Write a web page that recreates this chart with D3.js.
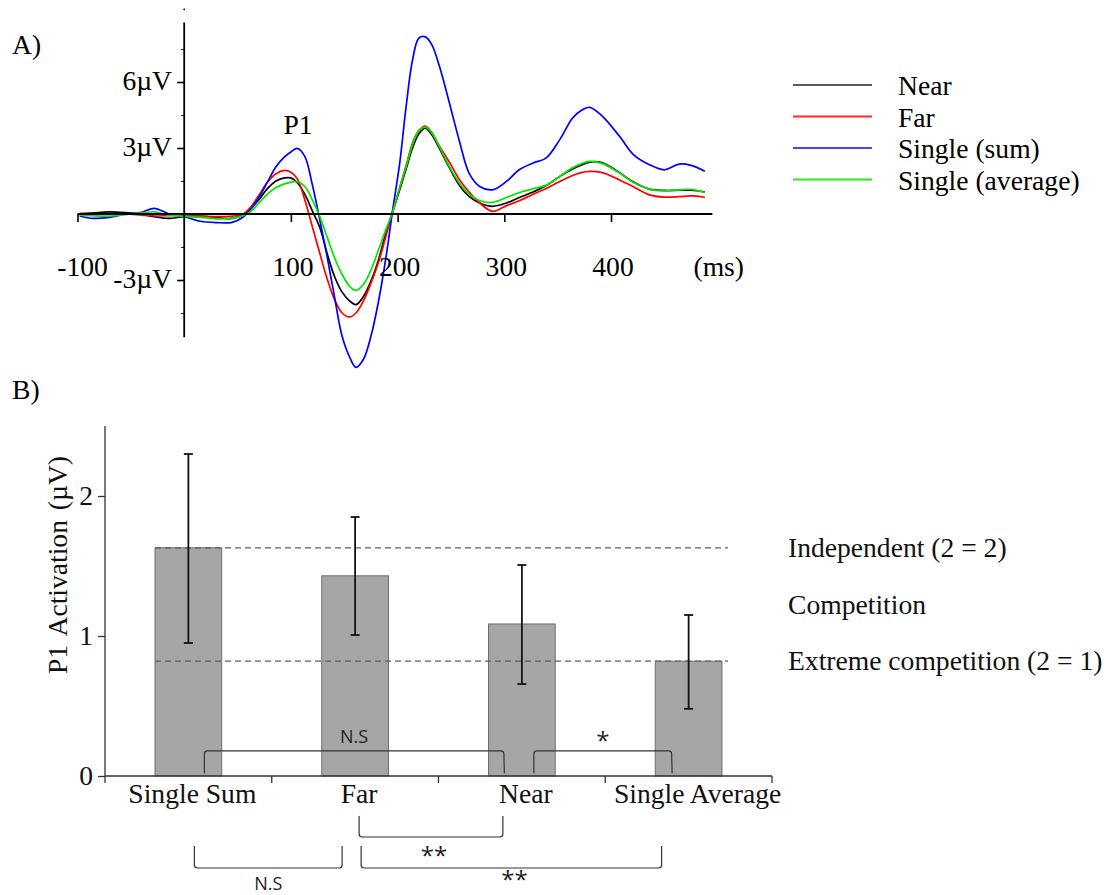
<!DOCTYPE html>
<html><head><meta charset="utf-8">
<script src="https://cdn.jsdelivr.net/npm/d3@7"></script>
<style>body{margin:0;background:#fff}svg{display:block}</style>
</head><body><svg id="c" width="1112" height="895"></svg>
<script>
// ---------- Panel A data (ERP waveforms, µV vs ms) ----------
const times = [-98,-85,-70,-55,-40,-28,-15,0,15,30,45,55,62,70,78,86,94,100,106,113,120,127,134,141,148,155,161,168,175,182,189,195,202,208,214,220,226,232,239,248,258,267,277,289,302,314,327,339,352,364,372,380,392,408,421,436,450,464,475,488];
const nearERP = [0,0.05,0.1,0.06,-0.02,-0.12,-0.2,-0.12,-0.1,-0.16,-0.2,-0.05,0.25,0.65,1.15,1.5,1.64,1.64,1.42,0.9,0.15,-0.6,-1.8,-2.85,-3.55,-3.95,-4.12,-3.75,-3.05,-2.1,-0.86,0.05,1.1,2.05,3.0,3.65,3.9,3.6,3.0,2.15,1.3,0.8,0.5,0.35,0.5,0.75,1.0,1.28,1.71,2.05,2.22,2.36,2.33,1.88,1.45,1.13,1.07,1.08,1.08,1.0];
const farERP = [0.03,0.02,0,0,-0.05,-0.09,-0.07,-0.06,-0.1,-0.12,-0.1,0,0.3,0.85,1.45,1.83,1.98,1.9,1.6,0.65,-0.56,-1.77,-2.95,-3.9,-4.5,-4.68,-4.5,-3.95,-3.15,-2.2,-1.02,0.05,1.2,2.2,3.23,3.8,4.0,3.7,3.1,2.4,1.56,1.0,0.5,0.12,0.38,0.6,0.9,1.15,1.48,1.75,1.88,1.94,1.88,1.55,1.24,0.87,0.77,0.79,0.82,0.76];
const sumERP = [-0.09,-0.2,-0.15,0,0.08,0.26,0.02,-0.12,-0.33,-0.39,-0.38,-0.15,0.2,0.75,1.45,2.15,2.6,2.82,2.98,2.62,1.35,-0.25,-1.95,-3.8,-5.56,-6.5,-6.97,-6.6,-5.56,-4.0,-2.0,0.05,2.32,4.89,7.0,8.0,8.05,7.7,6.75,5.15,3.3,1.86,1.25,1.1,1.48,2.01,2.32,2.54,3.38,4.36,4.7,4.85,4.44,3.53,2.7,2.24,2.01,2.27,2.21,1.94];
const avgERP = [-0.05,-0.08,-0.09,-0.03,0.05,0.1,-0.05,-0.1,-0.15,-0.22,-0.2,-0.08,0.1,0.5,0.9,1.2,1.37,1.45,1.47,1.25,0.65,-0.11,-1.05,-2.0,-2.75,-3.29,-3.47,-3.2,-2.55,-1.65,-0.71,0.05,1.2,2.15,3.15,3.8,3.95,3.7,3.07,2.2,1.4,0.9,0.6,0.53,0.75,0.97,1.15,1.3,1.71,2.1,2.28,2.39,2.29,1.86,1.43,1.13,1.05,1.1,1.12,0.98];
const seriesNames = ["Near","Far","Single (sum)","Single (average)"];
const seriesColors = ["#000000","#ff0000","#0000ff","#00e600"];
const legendColors = ["#5a5a5a","#ff2a2a","#4646ff","#22ee22"];
const xTicksA = [-100,100,200,300,400];
const xTickLabelsA = ["-100","100","200","300","400"];
const yTicksA = [-3,3,6];
const yTickLabelsA = ["-3\u00b5V","3\u00b5V","6\u00b5V"];
const yMinorA = [-4.5,-1.5,1.5,4.5,7.5];

// ---------- Panel B data ----------
const categories = ["Single Sum","Far","Near","Single Average"];
const means = [1.63,1.43,1.086,0.82];
const errLow = [0.95,1.007,0.657,0.48];
const errHigh = [2.30,1.85,1.507,1.15];
const yTicksB = [0,1,2];
const refLabels = ["Independent (2 = 2)","Competition","Extreme competition (2 = 1)"];
const sigTop = [
  {a:0,b:2,da:16,db:-18,label:"N.S"},
  {a:2,b:3,da:12,db:-17,label:"*"}
];
const sigBottom = [
  {a:1,b:2,da:4,db:-19,level:0,label:"**"},
  {a:0,b:1,da:6,db:-13,level:1,label:"N.S"},
  {a:1,b:3,da:6,db:-27,level:1,label:"**"}
];

const svg = d3.select("#c");
const SERIF = "'Liberation Serif','Times New Roman',serif";
const SANS = "'Open Sans','DejaVu Sans',sans-serif";
const FS = 27.6;

// ================= Panel A =================
const xA = d3.scaleLinear().domain([-100,400]).range([77.5,611]);
const yA = d3.scaleLinear().domain([-3,6]).range([280,82]);
const gA = svg.append("g");

const seriesData = [nearERP, farERP, sumERP, avgERP];
const line = d3.line().x((d,i)=>xA(times[i])).y(d=>yA(d)).curve(d3.curveCatmullRom.alpha(0.5));
[0,1,2,3].forEach(k=>{
  gA.append("path").attr("d", line(seriesData[k]))
    .attr("fill","none").attr("stroke",seriesColors[k]).attr("stroke-width",1.7);
});

// axes
gA.append("line").attr("x1",xA(-100)).attr("x2",xA(495)).attr("y1",yA(0)).attr("y2",yA(0))
  .attr("stroke","#000").attr("stroke-width",2);
gA.append("line").attr("x1",xA(0)).attr("x2",xA(0)).attr("y1",yA(8.7)).attr("y2",yA(-5.6))
  .attr("stroke","#000").attr("stroke-width",1.8);
gA.append("circle").attr("cx",xA(0)).attr("cy",yA(9.3)).attr("r",0.9).attr("fill","#000");
const xAxisA = d3.axisBottom(xA).tickValues(xTicksA).tickSize(8).tickFormat("");
gA.append("g").attr("transform",`translate(0,${yA(0)})`).call(xAxisA)
  .call(g=>g.select(".domain").remove())
  .call(g=>g.selectAll(".tick line").attr("stroke","#000").attr("stroke-width",1.6));
const yAxisA = d3.axisLeft(yA).tickValues(yTicksA).tickSize(7).tickFormat("");
gA.append("g").attr("transform",`translate(${xA(0)},0)`).call(yAxisA)
  .call(g=>g.select(".domain").remove())
  .call(g=>g.selectAll(".tick line").attr("stroke","#000").attr("stroke-width",1.6));
const yAxisMinor = d3.axisLeft(yA).tickValues(yMinorA).tickSize(3).tickFormat("");
gA.append("g").attr("transform",`translate(${xA(0)},0)`).call(yAxisMinor)
  .call(g=>g.select(".domain").remove())
  .call(g=>g.selectAll(".tick line").attr("stroke","#000").attr("stroke-width",1));

// tick labels
xTicksA.forEach((t,i)=>{
  gA.append("text").attr("x",xA(t)+(t<0?5:2)).attr("y",276).attr("text-anchor","middle")
    .attr("font-family",SERIF).attr("font-size",FS).text(xTickLabelsA[i]);
});
gA.append("text").attr("x",xA(501)).attr("y",276).attr("text-anchor","middle")
  .attr("font-family",SERIF).attr("font-size",FS).text("(ms)");
yTicksA.forEach((v,i)=>{
  gA.append("text").attr("x",172).attr("y",yA(v)).attr("dy","0.3em").attr("text-anchor","end")
    .attr("font-family",SERIF).attr("font-size",FS).text(yTickLabelsA[i]);
});
gA.append("text").attr("x",298).attr("y",134).attr("text-anchor","middle")
  .attr("font-family",SERIF).attr("font-size",FS).text("P1");
svg.append("text").attr("x",12).attr("y",54).attr("font-family",SERIF).attr("font-size",FS).text("A)");

// legend
const legend = svg.append("g");
seriesNames.forEach((n,i)=>{
  const ly = 85 + i*31.5;
  legend.append("line").attr("x1",793).attr("x2",872).attr("y1",ly).attr("y2",ly)
    .attr("stroke",legendColors[i]).attr("stroke-width",2.2);
  legend.append("text").attr("x",898).attr("y",ly+10).attr("font-family",SERIF)
    .attr("font-size",FS).text(n);
});

// ================= Panel B =================
const xB = d3.scaleBand().domain(categories).range([105,772]).paddingInner(0.6).paddingOuter(0.3);
const yB = d3.scaleLinear().domain([0,2.5]).range([776,426]);
const gB = svg.append("g");
const cx = i => xB(categories[i]) + xB.bandwidth()/2;

// bars
gB.selectAll("rect.bar").data(means).join("rect").attr("class","bar")
  .attr("x",(d,i)=>xB(categories[i])).attr("width",xB.bandwidth())
  .attr("y",d=>yB(d)).attr("height",d=>yB(0)-yB(d))
  .attr("fill","#a6a6a6").attr("stroke","#6e6e6e").attr("stroke-width",1);

// reference dashed lines
[means[0], means[3]].forEach(v=>{
  gB.append("line").attr("x1",xB(categories[0])).attr("x2",728).attr("y1",yB(v)).attr("y2",yB(v))
    .attr("stroke","#5e5e5e").attr("stroke-width",1.2).attr("stroke-dasharray","6,4");
});

// error bars
means.forEach((m,i)=>{
  const x = cx(i);
  gB.append("line").attr("x1",x).attr("x2",x).attr("y1",yB(errLow[i])).attr("y2",yB(errHigh[i]))
    .attr("stroke","#111").attr("stroke-width",1.8);
  [errLow[i],errHigh[i]].forEach(v=>{
    gB.append("line").attr("x1",x-4.5).attr("x2",x+4.5).attr("y1",yB(v)).attr("y2",yB(v))
      .attr("stroke","#111").attr("stroke-width",1.8);
  });
});

// axes
const yAxisB = d3.axisLeft(yB).tickValues(yTicksB).tickSize(7).tickFormat("");
gB.append("g").attr("transform","translate(105,0)").call(yAxisB)
  .call(g=>g.select(".domain").attr("stroke","#333").attr("stroke-width",1.3).attr("d",`M0,${yB(0)}V${yB(2.5)}`))
  .call(g=>g.selectAll(".tick line").attr("stroke","#333").attr("stroke-width",1.3));
yTicksB.forEach(v=>{
  gB.append("text").attr("x",93).attr("y",yB(v)).attr("dy","0.33em").attr("text-anchor","end")
    .attr("font-family",SERIF).attr("font-size",FS).attr("fill","#111").text(v);
});
gB.append("line").attr("x1",105).attr("x2",772).attr("y1",yB(0)).attr("y2",yB(0))
  .attr("stroke","#333").attr("stroke-width",1.3);
const bounds = categories.map((c,i)=>xB(c) - xB.step()*xB.paddingInner()/2);
bounds.push(772);
bounds[0] = 105;
bounds.forEach(b=>{
  gB.append("line").attr("x1",b).attr("x2",b).attr("y1",yB(0)).attr("y2",yB(0)+7)
    .attr("stroke","#333").attr("stroke-width",1.3);
});
categories.forEach((c,i)=>{
  gB.append("text").attr("x",cx(i)+(i===3?9:4)).attr("y",803).attr("text-anchor","middle")
    .attr("font-family",SERIF).attr("font-size",FS).attr("fill","#111").text(c);
});
gB.append("text").attr("transform",`translate(67,565) rotate(-90)`).attr("text-anchor","middle")
  .attr("font-family",SERIF).attr("font-size",FS).attr("fill","#111").attr("word-spacing","3px")
  .text("P1 Activation (\u00b5V)");
svg.append("text").attr("x",12).attr("y",399).attr("font-family",SERIF).attr("font-size",FS).text("B)");

// reference labels
const refVals = [means[0], (means[0]+means[3])/2, means[3]];
refLabels.forEach((t,i)=>{
  gB.append("text").attr("x",788).attr("y",yB(refVals[i])).attr("dy","0.33em")
    .attr("font-family",SERIF).attr("font-size",FS).attr("fill","#111").text(t);
});

// significance brackets
function bracketDown(x1,x2,yH,yEnd,r){
  return `M${x1},${yEnd} Q${x1},${yH+r*1.5} ${x1},${yH+r} Q${x1},${yH} ${x1+r},${yH} L${x2-r},${yH} Q${x2},${yH} ${x2},${yH+r} Q${x2},${yH+r*1.5} ${x2+0.5},${yEnd}`;
}
function bracketUp(x1,x2,yTop,yH,r){
  return `M${x1},${yTop} L${x1},${yH-r} Q${x1},${yH} ${x1+r},${yH} L${x2-r},${yH} Q${x2},${yH} ${x2},${yH-r} L${x2},${yTop}`;
}
sigTop.forEach(s=>{
  const x1 = cx(s.a)+s.da, x2 = cx(s.b)+s.db;
  gB.append("path").attr("d",bracketDown(x1,x2,yB(0.18),yB(0.02),3))
    .attr("fill","none").attr("stroke","#333").attr("stroke-width",1.2);
  const star = s.label.startsWith("*");
  gB.append("text").attr("x",(x1+x2)/2).attr("y",star?749:743).attr("text-anchor","middle")
    .attr("font-family",SANS).attr("font-size",star?24:18).attr("fill","#222").text(s.label);
});
const levels = [{top:816,h:837},{top:846,h:868}];
sigBottom.forEach(s=>{
  const x1 = cx(s.a)+s.da, x2 = cx(s.b)+s.db, L = levels[s.level];
  gB.append("path").attr("d",bracketUp(x1,x2,L.top,L.h,3))
    .attr("fill","none").attr("stroke","#333").attr("stroke-width",1.2);
  const star = s.label.startsWith("*");
  const ty = star ? Math.min(L.h+27, 888) : L.h+22;
  gB.append("text").attr("x",(x1+x2)/2 + (star?3:0)).attr("y",ty).attr("text-anchor","middle")
    .attr("font-family",SANS).attr("font-size",star?24:18).attr("fill","#222").text(s.label);
});
</script></body></html>
